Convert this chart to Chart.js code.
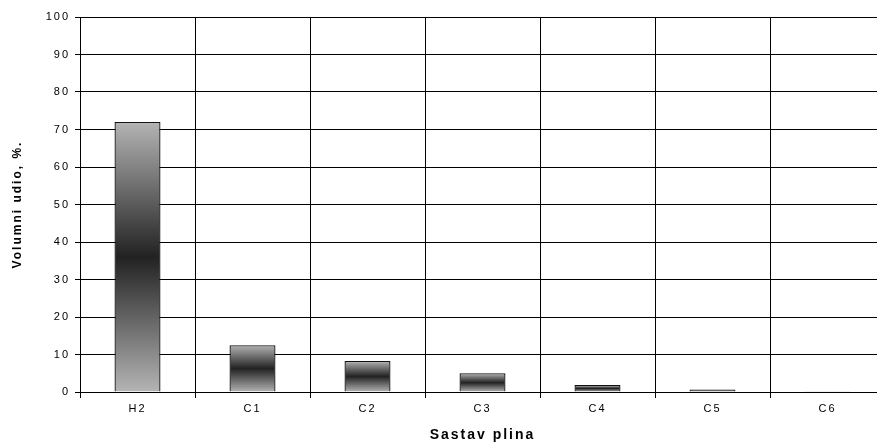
<!DOCTYPE html>
<html>
<head>
<meta charset="utf-8">
<script src="https://cdn.jsdelivr.net/npm/chart.js@4/dist/chart.umd.min.js"></script>
<style>
  html, body { margin: 0; padding: 0; background: #fff; overflow: hidden; }
  #wrap { width: 890px; height: 444px; }
</style>
</head>
<body>
<div id="wrap"><canvas id="grafikon" width="890" height="444"></canvas></div>
<script>
// Podaci grafikona
const kategorije = ["H2", "C1", "C2", "C3", "C4", "C5", "C6"];
const volumniUdio = [72, 12.5, 8.3, 5.0, 1.9, 0.7, 0.1];
const yMin = 0;
const yMax = 100;
const yKorak = 10;

// Gradijent svijetlo - tamno - svijetlo za svaki stupac
function gradijentStupca(context) {
    const chart = context.chart;
    if (!chart.chartArea) return '#888';
    const y = chart.scales.y;
    const vrh = y.getPixelForValue(context.raw);
    const dno = y.getPixelForValue(0);
    if (dno - vrh < 1) return '#333';
    const g = chart.ctx.createLinearGradient(0, vrh, 0, dno);
    g.addColorStop(0, '#b4b4b4');
    g.addColorStop(0.5, '#222222');
    g.addColorStop(1, '#b4b4b4');
    return g;
}

// Razmak između slova (kao u originalnom Excel grafikonu)
const razmakSlova = {
    id: 'razmakSlova',
    beforeUpdate(chart) { chart.ctx.letterSpacing = '2px'; },
    beforeDraw(chart) { chart.ctx.letterSpacing = '2px'; }
};

Chart.defaults.font.family = "'Liberation Sans', Arial, sans-serif";
Chart.defaults.color = '#000';

new Chart(document.getElementById("grafikon"), {
    type: 'bar',
    data: {
        labels: kategorije,
        datasets: [{
            data: volumniUdio,
            backgroundColor: gradijentStupca,
            borderColor: '#111',
            borderWidth: 1.3,
            barPercentage: 0.4,
            categoryPercentage: 1.0
        }]
    },
    options: {
        responsive: false,
        animation: false,
        layout: { padding: { top: 17, right: 5, left: 0, bottom: 0 } },
        plugins: {
            legend: { display: false },
            tooltip: { enabled: false }
        },
        scales: {
            x: {
                offset: true,
                grid: { offset: true, color: '#000', lineWidth: 1, tickLength: 6 },
                border: { color: '#000', width: 1 },
                ticks: { font: { size: 11 }, padding: 4 },
                title: {
                    display: true,
                    text: 'Sastav plina',
                    font: { size: 14, weight: 'bold' },
                    padding: { top: 6, bottom: 0 }
                },
                afterFit: s => { s.height = 52; }
            },
            y: {
                min: yMin,
                max: yMax,
                ticks: { stepSize: yKorak, font: { size: 11 }, padding: 5 },
                grid: { color: '#000', lineWidth: 1, tickLength: 5 },
                border: { color: '#000', width: 1 },
                title: {
                    display: true,
                    text: 'Volumni udio, %.',
                    font: { size: 12, weight: 'bold' },
                    padding: { top: 10, bottom: 4 }
                },
                afterFit: s => { s.width = 80; }
            }
        }
    },
    plugins: [razmakSlova]
});
</script>
</body>
</html>
